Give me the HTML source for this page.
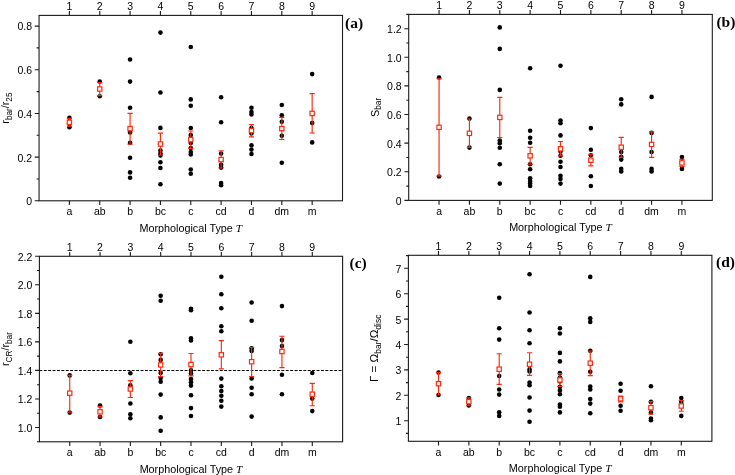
<!DOCTYPE html>
<html><head><meta charset="utf-8"><title>Figure</title>
<style>
html,body{margin:0;padding:0;background:#fff;}
body{width:735px;height:475px;overflow:hidden;font-family:"Liberation Sans",sans-serif;}
svg{display:block;will-change:transform;}
</style></head><body>
<svg width="735" height="475" viewBox="0 0 735 475">
<rect width="735" height="475" fill="#fff"/>
<g>
<g fill="#000">
<circle cx="69.39" cy="117.7" r="2.3"/>
<circle cx="69.39" cy="127.2" r="2.3"/>
<circle cx="99.74" cy="81.6" r="2.3"/>
<circle cx="99.74" cy="96.3" r="2.3"/>
<circle cx="130.08" cy="59.5" r="2.3"/>
<circle cx="130.08" cy="81.6" r="2.3"/>
<circle cx="130.08" cy="107.7" r="2.3"/>
<circle cx="130.08" cy="132.5" r="2.3"/>
<circle cx="130.08" cy="142.7" r="2.3"/>
<circle cx="130.08" cy="157.7" r="2.3"/>
<circle cx="130.08" cy="172.4" r="2.3"/>
<circle cx="130.08" cy="177.8" r="2.3"/>
<circle cx="160.43" cy="32.6" r="2.3"/>
<circle cx="160.43" cy="92.5" r="2.3"/>
<circle cx="160.43" cy="127.9" r="2.3"/>
<circle cx="160.43" cy="150.5" r="2.3"/>
<circle cx="160.43" cy="153.5" r="2.3"/>
<circle cx="160.43" cy="155.5" r="2.3"/>
<circle cx="160.43" cy="162.3" r="2.3"/>
<circle cx="160.43" cy="168" r="2.3"/>
<circle cx="160.43" cy="184.2" r="2.3"/>
<circle cx="190.77" cy="47" r="2.3"/>
<circle cx="190.77" cy="99.4" r="2.3"/>
<circle cx="190.77" cy="105.7" r="2.3"/>
<circle cx="190.77" cy="128" r="2.3"/>
<circle cx="190.77" cy="135" r="2.3"/>
<circle cx="190.77" cy="138.5" r="2.3"/>
<circle cx="190.77" cy="143" r="2.3"/>
<circle cx="190.77" cy="148" r="2.3"/>
<circle cx="190.77" cy="152" r="2.3"/>
<circle cx="190.77" cy="154.5" r="2.3"/>
<circle cx="190.77" cy="169.5" r="2.3"/>
<circle cx="190.77" cy="173.7" r="2.3"/>
<circle cx="221.12" cy="97.3" r="2.3"/>
<circle cx="221.12" cy="122.3" r="2.3"/>
<circle cx="221.12" cy="153.6" r="2.3"/>
<circle cx="221.12" cy="160.3" r="2.3"/>
<circle cx="221.12" cy="164.7" r="2.3"/>
<circle cx="221.12" cy="167.6" r="2.3"/>
<circle cx="221.12" cy="183" r="2.3"/>
<circle cx="221.12" cy="185.3" r="2.3"/>
<circle cx="251.46" cy="107.7" r="2.3"/>
<circle cx="251.46" cy="112" r="2.3"/>
<circle cx="251.46" cy="114.5" r="2.3"/>
<circle cx="251.46" cy="128" r="2.3"/>
<circle cx="251.46" cy="133.5" r="2.3"/>
<circle cx="251.46" cy="145.3" r="2.3"/>
<circle cx="251.46" cy="149.6" r="2.3"/>
<circle cx="251.46" cy="154" r="2.3"/>
<circle cx="281.81" cy="105" r="2.3"/>
<circle cx="281.81" cy="115.2" r="2.3"/>
<circle cx="281.81" cy="121.7" r="2.3"/>
<circle cx="281.81" cy="135.7" r="2.3"/>
<circle cx="281.81" cy="162.7" r="2.3"/>
<circle cx="312.16" cy="74.1" r="2.3"/>
<circle cx="312.16" cy="123" r="2.3"/>
<circle cx="312.16" cy="142.4" r="2.3"/>
</g>
<g stroke="#ff2a0c" stroke-width="1.15" fill="none">
<path d="M69.39 118.3V126.2M66.8 118.3H71.99M66.8 126.2H71.99"/>
<path d="M99.74 82.6V95.6M97.14 82.6H102.34M97.14 95.6H102.34"/>
<path d="M130.08 113.3V144.2M127.48 113.3H132.68M127.48 144.2H132.68"/>
<path d="M160.43 133.1V155.2M157.83 133.1H163.03M157.83 155.2H163.03"/>
<path d="M190.77 131V148.4M188.17 131H193.37M188.17 148.4H193.37"/>
<path d="M221.12 150.7V168M218.52 150.7H223.72M218.52 168H223.72"/>
<path d="M251.46 124.6V136.8M248.86 124.6H254.06M248.86 136.8H254.06"/>
<path d="M281.81 117.4V139.5M279.21 117.4H284.41M279.21 139.5H284.41"/>
<path d="M312.16 93.6V133M309.56 93.6H314.76M309.56 133H314.76"/>
</g>
<g stroke="#ff2a0c" stroke-width="1.2" fill="#fff">
<rect x="67.24" y="120.15" width="4.3" height="4.3"/>
<rect x="97.59" y="86.85" width="4.3" height="4.3"/>
<rect x="127.93" y="126.45" width="4.3" height="4.3"/>
<rect x="158.28" y="141.85" width="4.3" height="4.3"/>
<rect x="188.62" y="137.45" width="4.3" height="4.3"/>
<rect x="218.97" y="157.45" width="4.3" height="4.3"/>
<rect x="249.31" y="128.45" width="4.3" height="4.3"/>
<rect x="279.66" y="126.45" width="4.3" height="4.3"/>
<rect x="310.01" y="111.25" width="4.3" height="4.3"/>
</g>
<g stroke="#1a1a1a" stroke-width="1.1" fill="none">
<rect x="39.05" y="15.4" width="303.45" height="185.4"/>
<path d="M69.39 200.8v4.3M69.39 15.4v-4.3M99.74 200.8v4.3M99.74 15.4v-4.3M130.08 200.8v4.3M130.08 15.4v-4.3M160.43 200.8v4.3M160.43 15.4v-4.3M190.77 200.8v4.3M190.77 15.4v-4.3M221.12 200.8v4.3M221.12 15.4v-4.3M251.46 200.8v4.3M251.46 15.4v-4.3M281.81 200.8v4.3M281.81 15.4v-4.3M312.16 200.8v4.3M312.16 15.4v-4.3M39.05 200.8h-4.3M39.05 157.12h-4.3M39.05 113.44h-4.3M39.05 69.76h-4.3M39.05 26.08h-4.3M39.05 178.96h-2.4M39.05 135.28h-2.4M39.05 91.6h-2.4M39.05 47.92h-2.4"/>
</g>
<g font-family="Liberation Sans, sans-serif" font-size="10.5" fill="#000">
<g text-anchor="middle">
<text x="69.39" y="10.2">1</text>
<text x="69.39" y="215.4">a</text>
<text x="99.74" y="10.2">2</text>
<text x="99.74" y="215.4">ab</text>
<text x="130.08" y="10.2">3</text>
<text x="130.08" y="215.4">b</text>
<text x="160.43" y="10.2">4</text>
<text x="160.43" y="215.4">bc</text>
<text x="190.77" y="10.2">5</text>
<text x="190.77" y="215.4">c</text>
<text x="221.12" y="10.2">6</text>
<text x="221.12" y="215.4">cd</text>
<text x="251.46" y="10.2">7</text>
<text x="251.46" y="215.4">d</text>
<text x="281.81" y="10.2">8</text>
<text x="281.81" y="215.4">dm</text>
<text x="312.16" y="10.2">9</text>
<text x="312.16" y="215.4">m</text>
</g>
<g text-anchor="end">
<text x="32.05" y="205.2">0</text>
<text x="32.05" y="161.52">0.2</text>
<text x="32.05" y="117.84">0.4</text>
<text x="32.05" y="74.16">0.6</text>
<text x="32.05" y="30.48">0.8</text>
</g>
</g>
<text x="190.78" y="231.7" text-anchor="middle" font-family="Liberation Sans, sans-serif" font-size="10.8" fill="#000">Morphological Type <tspan font-family="Liberation Serif, serif" font-style="italic" font-size="11.3">T</tspan></text>
<text transform="translate(8.6 108.1) rotate(-90)" text-anchor="middle" font-family="Liberation Sans, sans-serif" font-size="10.8" fill="#000">r<tspan font-size="8.2" dy="3.8">bar</tspan><tspan dy="-3.8">/r</tspan><tspan font-size="8.2" dy="3.8">25</tspan></text>
<text x="345" y="28.3" font-family="Liberation Serif, serif" font-weight="bold" font-size="15.5" fill="#000">(a)</text>
</g>
<g>
<g fill="#000">
<circle cx="439.06" cy="77.5" r="2.3"/>
<circle cx="439.06" cy="176.5" r="2.3"/>
<circle cx="469.42" cy="118.6" r="2.3"/>
<circle cx="469.42" cy="147.6" r="2.3"/>
<circle cx="499.78" cy="27.4" r="2.3"/>
<circle cx="499.78" cy="48.9" r="2.3"/>
<circle cx="499.78" cy="89.9" r="2.3"/>
<circle cx="499.78" cy="140.6" r="2.3"/>
<circle cx="499.78" cy="143.3" r="2.3"/>
<circle cx="499.78" cy="147.8" r="2.3"/>
<circle cx="499.78" cy="164.3" r="2.3"/>
<circle cx="499.78" cy="183.6" r="2.3"/>
<circle cx="530.14" cy="68.2" r="2.3"/>
<circle cx="530.14" cy="130.7" r="2.3"/>
<circle cx="530.14" cy="137.8" r="2.3"/>
<circle cx="530.14" cy="142.7" r="2.3"/>
<circle cx="530.14" cy="164.2" r="2.3"/>
<circle cx="530.14" cy="169.2" r="2.3"/>
<circle cx="530.14" cy="178.3" r="2.3"/>
<circle cx="530.14" cy="181" r="2.3"/>
<circle cx="530.14" cy="183.6" r="2.3"/>
<circle cx="530.14" cy="186" r="2.3"/>
<circle cx="560.5" cy="65.7" r="2.3"/>
<circle cx="560.5" cy="120.6" r="2.3"/>
<circle cx="560.5" cy="123.2" r="2.3"/>
<circle cx="560.5" cy="135.4" r="2.3"/>
<circle cx="560.5" cy="151.6" r="2.3"/>
<circle cx="560.5" cy="155.8" r="2.3"/>
<circle cx="560.5" cy="161.7" r="2.3"/>
<circle cx="560.5" cy="167" r="2.3"/>
<circle cx="560.5" cy="175.8" r="2.3"/>
<circle cx="560.5" cy="179" r="2.3"/>
<circle cx="560.5" cy="183.6" r="2.3"/>
<circle cx="590.86" cy="128.1" r="2.3"/>
<circle cx="590.86" cy="149.8" r="2.3"/>
<circle cx="590.86" cy="155.2" r="2.3"/>
<circle cx="590.86" cy="160" r="2.3"/>
<circle cx="590.86" cy="176.3" r="2.3"/>
<circle cx="590.86" cy="186" r="2.3"/>
<circle cx="621.22" cy="99.2" r="2.3"/>
<circle cx="621.22" cy="104.4" r="2.3"/>
<circle cx="621.22" cy="152" r="2.3"/>
<circle cx="621.22" cy="156.8" r="2.3"/>
<circle cx="621.22" cy="159.6" r="2.3"/>
<circle cx="621.22" cy="168.9" r="2.3"/>
<circle cx="621.22" cy="171.5" r="2.3"/>
<circle cx="651.58" cy="96.9" r="2.3"/>
<circle cx="651.58" cy="132.9" r="2.3"/>
<circle cx="651.58" cy="152" r="2.3"/>
<circle cx="651.58" cy="168.9" r="2.3"/>
<circle cx="651.58" cy="171.5" r="2.3"/>
<circle cx="681.94" cy="157" r="2.3"/>
<circle cx="681.94" cy="168.9" r="2.3"/>
</g>
<g stroke="#ff2a0c" stroke-width="1.15" fill="none">
<path d="M439.06 78.7V175.9M436.46 78.7H441.66M436.46 175.9H441.66"/>
<path d="M469.42 119V147.4M466.82 119H472.02M466.82 147.4H472.02"/>
<path d="M499.78 97.3V137.5M497.18 97.3H502.38M497.18 137.5H502.38"/>
<path d="M530.14 147.4V164.2M527.54 147.4H532.74M527.54 164.2H532.74"/>
<path d="M560.5 141.5V155.8M557.9 141.5H563.1M557.9 155.8H563.1"/>
<path d="M590.86 154.2V165.8M588.26 154.2H593.46M588.26 165.8H593.46"/>
<path d="M621.22 137.3V157.4M618.62 137.3H623.82M618.62 157.4H623.82"/>
<path d="M651.58 131.9V157.4M648.98 131.9H654.18M648.98 157.4H654.18"/>
<path d="M681.94 159.4V166.4M679.34 159.4H684.54M679.34 166.4H684.54"/>
</g>
<g stroke="#ff2a0c" stroke-width="1.2" fill="#fff">
<rect x="436.91" y="125.15" width="4.3" height="4.3"/>
<rect x="467.27" y="131.15" width="4.3" height="4.3"/>
<rect x="497.63" y="115.25" width="4.3" height="4.3"/>
<rect x="527.99" y="153.65" width="4.3" height="4.3"/>
<rect x="558.35" y="146.65" width="4.3" height="4.3"/>
<rect x="588.71" y="158.05" width="4.3" height="4.3"/>
<rect x="619.07" y="145.05" width="4.3" height="4.3"/>
<rect x="649.43" y="142.25" width="4.3" height="4.3"/>
<rect x="679.79" y="160.75" width="4.3" height="4.3"/>
</g>
<g stroke="#1a1a1a" stroke-width="1.1" fill="none">
<rect x="408.7" y="14.4" width="303.6" height="186"/>
<path d="M439.06 200.4v4.3M439.06 14.4v-4.3M469.42 200.4v4.3M469.42 14.4v-4.3M499.78 200.4v4.3M499.78 14.4v-4.3M530.14 200.4v4.3M530.14 14.4v-4.3M560.5 200.4v4.3M560.5 14.4v-4.3M590.86 200.4v4.3M590.86 14.4v-4.3M621.22 200.4v4.3M621.22 14.4v-4.3M651.58 200.4v4.3M651.58 14.4v-4.3M681.94 200.4v4.3M681.94 14.4v-4.3M408.7 200.4h-4.3M408.7 171.78h-4.3M408.7 143.16h-4.3M408.7 114.54h-4.3M408.7 85.92h-4.3M408.7 57.3h-4.3M408.7 28.68h-4.3M408.7 186.09h-2.4M408.7 157.47h-2.4M408.7 128.85h-2.4M408.7 100.23h-2.4M408.7 71.61h-2.4M408.7 42.99h-2.4M408.7 14.37h-2.4"/>
</g>
<g font-family="Liberation Sans, sans-serif" font-size="10.5" fill="#000">
<g text-anchor="middle">
<text x="439.06" y="9.2">1</text>
<text x="439.06" y="215">a</text>
<text x="469.42" y="9.2">2</text>
<text x="469.42" y="215">ab</text>
<text x="499.78" y="9.2">3</text>
<text x="499.78" y="215">b</text>
<text x="530.14" y="9.2">4</text>
<text x="530.14" y="215">bc</text>
<text x="560.5" y="9.2">5</text>
<text x="560.5" y="215">c</text>
<text x="590.86" y="9.2">6</text>
<text x="590.86" y="215">cd</text>
<text x="621.22" y="9.2">7</text>
<text x="621.22" y="215">d</text>
<text x="651.58" y="9.2">8</text>
<text x="651.58" y="215">dm</text>
<text x="681.94" y="9.2">9</text>
<text x="681.94" y="215">m</text>
</g>
<g text-anchor="end">
<text x="401.7" y="204.8">0</text>
<text x="401.7" y="176.18">0.2</text>
<text x="401.7" y="147.56">0.4</text>
<text x="401.7" y="118.94">0.6</text>
<text x="401.7" y="90.32">0.8</text>
<text x="401.7" y="61.7">1.0</text>
<text x="401.7" y="33.08">1.2</text>
</g>
</g>
<text x="560.5" y="231.3" text-anchor="middle" font-family="Liberation Sans, sans-serif" font-size="10.8" fill="#000">Morphological Type <tspan font-family="Liberation Serif, serif" font-style="italic" font-size="11.3">T</tspan></text>
<text transform="translate(378.9 107.4) rotate(-90)" text-anchor="middle" font-family="Liberation Sans, sans-serif" font-size="10.8" fill="#000">S<tspan font-size="8.2" dy="2.4">bar</tspan></text>
<text x="716.4" y="27.4" font-family="Liberation Serif, serif" font-weight="bold" font-size="15.5" fill="#000">(b)</text>
</g>
<g>
<line x1="39.4" y1="370.5" x2="342.6" y2="370.5" stroke="#000" stroke-width="1" stroke-dasharray="2.9 1.5"/>
<g fill="#000">
<circle cx="69.72" cy="375.4" r="2.3"/>
<circle cx="69.72" cy="412.6" r="2.3"/>
<circle cx="100.04" cy="405.6" r="2.3"/>
<circle cx="100.04" cy="417" r="2.3"/>
<circle cx="130.36" cy="341.8" r="2.3"/>
<circle cx="130.36" cy="373.3" r="2.3"/>
<circle cx="130.36" cy="385.3" r="2.3"/>
<circle cx="130.36" cy="403.5" r="2.3"/>
<circle cx="130.36" cy="414.3" r="2.3"/>
<circle cx="130.36" cy="418.2" r="2.3"/>
<circle cx="160.68" cy="295.7" r="2.3"/>
<circle cx="160.68" cy="300.7" r="2.3"/>
<circle cx="160.68" cy="354.3" r="2.3"/>
<circle cx="160.68" cy="359.9" r="2.3"/>
<circle cx="160.68" cy="365" r="2.3"/>
<circle cx="160.68" cy="372.9" r="2.3"/>
<circle cx="160.68" cy="378.1" r="2.3"/>
<circle cx="160.68" cy="381.8" r="2.3"/>
<circle cx="160.68" cy="394.6" r="2.3"/>
<circle cx="160.68" cy="417.4" r="2.3"/>
<circle cx="160.68" cy="430.8" r="2.3"/>
<circle cx="191" cy="308.8" r="2.3"/>
<circle cx="191" cy="310.3" r="2.3"/>
<circle cx="191" cy="338.4" r="2.3"/>
<circle cx="191" cy="340.5" r="2.3"/>
<circle cx="191" cy="365" r="2.3"/>
<circle cx="191" cy="370.4" r="2.3"/>
<circle cx="191" cy="373.6" r="2.3"/>
<circle cx="191" cy="379.1" r="2.3"/>
<circle cx="191" cy="382.3" r="2.3"/>
<circle cx="191" cy="385.6" r="2.3"/>
<circle cx="191" cy="395.3" r="2.3"/>
<circle cx="191" cy="408.1" r="2.3"/>
<circle cx="191" cy="416" r="2.3"/>
<circle cx="221.32" cy="276.8" r="2.3"/>
<circle cx="221.32" cy="294.2" r="2.3"/>
<circle cx="221.32" cy="308.3" r="2.3"/>
<circle cx="221.32" cy="326.3" r="2.3"/>
<circle cx="221.32" cy="331.2" r="2.3"/>
<circle cx="221.32" cy="378.6" r="2.3"/>
<circle cx="221.32" cy="386.2" r="2.3"/>
<circle cx="221.32" cy="391" r="2.3"/>
<circle cx="221.32" cy="395.8" r="2.3"/>
<circle cx="221.32" cy="400.8" r="2.3"/>
<circle cx="221.32" cy="406.6" r="2.3"/>
<circle cx="251.64" cy="302.5" r="2.3"/>
<circle cx="251.64" cy="320.8" r="2.3"/>
<circle cx="251.64" cy="348.2" r="2.3"/>
<circle cx="251.64" cy="350.9" r="2.3"/>
<circle cx="251.64" cy="378.4" r="2.3"/>
<circle cx="251.64" cy="387.7" r="2.3"/>
<circle cx="251.64" cy="394.3" r="2.3"/>
<circle cx="251.64" cy="416.6" r="2.3"/>
<circle cx="281.96" cy="306.1" r="2.3"/>
<circle cx="281.96" cy="340.1" r="2.3"/>
<circle cx="281.96" cy="346.1" r="2.3"/>
<circle cx="281.96" cy="374.7" r="2.3"/>
<circle cx="281.96" cy="394.3" r="2.3"/>
<circle cx="312.28" cy="373" r="2.3"/>
<circle cx="312.28" cy="398.6" r="2.3"/>
<circle cx="312.28" cy="411.1" r="2.3"/>
</g>
<g stroke="#ff2a0c" stroke-width="1.15" fill="none">
<path d="M69.72 375.4V412.2M67.12 375.4H72.32M67.12 412.2H72.32"/>
<path d="M100.04 406.6V417M97.44 406.6H102.64M97.44 417H102.64"/>
<path d="M130.36 380.6V397.5M127.76 380.6H132.96M127.76 397.5H132.96"/>
<path d="M160.68 353.3V376.6M158.08 353.3H163.28M158.08 376.6H163.28"/>
<path d="M191 353.5V375.8M188.4 353.5H193.6M188.4 375.8H193.6"/>
<path d="M221.32 340.6V368.9M218.72 340.6H223.92M218.72 368.9H223.92"/>
<path d="M251.64 347.5V376.5M249.04 347.5H254.24M249.04 376.5H254.24"/>
<path d="M281.96 336.2V367.6M279.36 336.2H284.56M279.36 367.6H284.56"/>
<path d="M312.28 383.4V405.7M309.68 383.4H314.88M309.68 405.7H314.88"/>
</g>
<g stroke="#ff2a0c" stroke-width="1.2" fill="#fff">
<rect x="67.57" y="391.05" width="4.3" height="4.3"/>
<rect x="97.89" y="409.65" width="4.3" height="4.3"/>
<rect x="128.21" y="386.85" width="4.3" height="4.3"/>
<rect x="158.53" y="362.75" width="4.3" height="4.3"/>
<rect x="188.85" y="362.35" width="4.3" height="4.3"/>
<rect x="219.17" y="352.65" width="4.3" height="4.3"/>
<rect x="249.49" y="359.55" width="4.3" height="4.3"/>
<rect x="279.81" y="349.35" width="4.3" height="4.3"/>
<rect x="310.13" y="392.05" width="4.3" height="4.3"/>
</g>
<g stroke="#1a1a1a" stroke-width="1.1" fill="none">
<rect x="39.4" y="256.3" width="303.2" height="185.5"/>
<path d="M69.72 441.8v4.3M69.72 256.3v-4.3M100.04 441.8v4.3M100.04 256.3v-4.3M130.36 441.8v4.3M130.36 256.3v-4.3M160.68 441.8v4.3M160.68 256.3v-4.3M191 441.8v4.3M191 256.3v-4.3M221.32 441.8v4.3M221.32 256.3v-4.3M251.64 441.8v4.3M251.64 256.3v-4.3M281.96 441.8v4.3M281.96 256.3v-4.3M312.28 441.8v4.3M312.28 256.3v-4.3M39.4 427.5h-4.3M39.4 398.96h-4.3M39.4 370.42h-4.3M39.4 341.88h-4.3M39.4 313.34h-4.3M39.4 284.8h-4.3M39.4 256.26h-4.3M39.4 441.77h-2.4M39.4 413.23h-2.4M39.4 384.69h-2.4M39.4 356.15h-2.4M39.4 327.61h-2.4M39.4 299.07h-2.4M39.4 270.53h-2.4"/>
</g>
<g font-family="Liberation Sans, sans-serif" font-size="10.5" fill="#000">
<g text-anchor="middle">
<text x="69.72" y="251.1">1</text>
<text x="69.72" y="456.4">a</text>
<text x="100.04" y="251.1">2</text>
<text x="100.04" y="456.4">ab</text>
<text x="130.36" y="251.1">3</text>
<text x="130.36" y="456.4">b</text>
<text x="160.68" y="251.1">4</text>
<text x="160.68" y="456.4">bc</text>
<text x="191" y="251.1">5</text>
<text x="191" y="456.4">c</text>
<text x="221.32" y="251.1">6</text>
<text x="221.32" y="456.4">cd</text>
<text x="251.64" y="251.1">7</text>
<text x="251.64" y="456.4">d</text>
<text x="281.96" y="251.1">8</text>
<text x="281.96" y="456.4">dm</text>
<text x="312.28" y="251.1">9</text>
<text x="312.28" y="456.4">m</text>
</g>
<g text-anchor="end">
<text x="32.4" y="431.9">1.0</text>
<text x="32.4" y="403.36">1.2</text>
<text x="32.4" y="374.82">1.4</text>
<text x="32.4" y="346.28">1.6</text>
<text x="32.4" y="317.74">1.8</text>
<text x="32.4" y="289.2">2.0</text>
<text x="32.4" y="260.66">2.2</text>
</g>
</g>
<text x="191" y="472.7" text-anchor="middle" font-family="Liberation Sans, sans-serif" font-size="10.8" fill="#000">Morphological Type <tspan font-family="Liberation Serif, serif" font-style="italic" font-size="11.3">T</tspan></text>
<text transform="translate(8.6 349.05) rotate(-90)" text-anchor="middle" font-family="Liberation Sans, sans-serif" font-size="10.8" fill="#000">r<tspan font-size="8.2" dy="3.8">CR</tspan><tspan dy="-3.8">/r</tspan><tspan font-size="8.2" dy="3.8">bar</tspan></text>
<text x="349.5" y="268" font-family="Liberation Serif, serif" font-weight="bold" font-size="15.5" fill="#000">(c)</text>
</g>
<g>
<g fill="#000">
<circle cx="438.5" cy="372.5" r="2.3"/>
<circle cx="438.5" cy="395" r="2.3"/>
<circle cx="468.85" cy="398" r="2.3"/>
<circle cx="468.85" cy="401.7" r="2.3"/>
<circle cx="468.85" cy="405.4" r="2.3"/>
<circle cx="499.2" cy="297.8" r="2.3"/>
<circle cx="499.2" cy="328.2" r="2.3"/>
<circle cx="499.2" cy="339.6" r="2.3"/>
<circle cx="499.2" cy="376" r="2.3"/>
<circle cx="499.2" cy="389.5" r="2.3"/>
<circle cx="499.2" cy="394.6" r="2.3"/>
<circle cx="499.2" cy="412.2" r="2.3"/>
<circle cx="499.2" cy="415.9" r="2.3"/>
<circle cx="529.55" cy="274.2" r="2.3"/>
<circle cx="529.55" cy="312.5" r="2.3"/>
<circle cx="529.55" cy="330.3" r="2.3"/>
<circle cx="529.55" cy="343.3" r="2.3"/>
<circle cx="529.55" cy="369.4" r="2.3"/>
<circle cx="529.55" cy="371.5" r="2.3"/>
<circle cx="529.55" cy="382.6" r="2.3"/>
<circle cx="529.55" cy="385.3" r="2.3"/>
<circle cx="529.55" cy="397.5" r="2.3"/>
<circle cx="529.55" cy="410.6" r="2.3"/>
<circle cx="529.55" cy="421.7" r="2.3"/>
<circle cx="559.9" cy="328.3" r="2.3"/>
<circle cx="559.9" cy="333.5" r="2.3"/>
<circle cx="559.9" cy="352.9" r="2.3"/>
<circle cx="559.9" cy="361.4" r="2.3"/>
<circle cx="559.9" cy="373.1" r="2.3"/>
<circle cx="559.9" cy="377.5" r="2.3"/>
<circle cx="559.9" cy="381.5" r="2.3"/>
<circle cx="559.9" cy="386.8" r="2.3"/>
<circle cx="559.9" cy="390.4" r="2.3"/>
<circle cx="559.9" cy="394.3" r="2.3"/>
<circle cx="559.9" cy="404.6" r="2.3"/>
<circle cx="559.9" cy="406.7" r="2.3"/>
<circle cx="559.9" cy="412.4" r="2.3"/>
<circle cx="590.25" cy="276.9" r="2.3"/>
<circle cx="590.25" cy="318.2" r="2.3"/>
<circle cx="590.25" cy="321.9" r="2.3"/>
<circle cx="590.25" cy="350.7" r="2.3"/>
<circle cx="590.25" cy="371.7" r="2.3"/>
<circle cx="590.25" cy="386.5" r="2.3"/>
<circle cx="590.25" cy="389.4" r="2.3"/>
<circle cx="590.25" cy="399" r="2.3"/>
<circle cx="590.25" cy="403.6" r="2.3"/>
<circle cx="590.25" cy="413.2" r="2.3"/>
<circle cx="620.6" cy="383.7" r="2.3"/>
<circle cx="620.6" cy="390.7" r="2.3"/>
<circle cx="620.6" cy="399" r="2.3"/>
<circle cx="620.6" cy="405.7" r="2.3"/>
<circle cx="620.6" cy="410.8" r="2.3"/>
<circle cx="650.95" cy="386.2" r="2.3"/>
<circle cx="650.95" cy="401.9" r="2.3"/>
<circle cx="650.95" cy="412.4" r="2.3"/>
<circle cx="650.95" cy="418.5" r="2.3"/>
<circle cx="650.95" cy="420.3" r="2.3"/>
<circle cx="681.3" cy="398.1" r="2.3"/>
<circle cx="681.3" cy="401.9" r="2.3"/>
<circle cx="681.3" cy="415.9" r="2.3"/>
</g>
<g stroke="#ff2a0c" stroke-width="1.15" fill="none">
<path d="M438.5 372.5V395M435.9 372.5H441.1M435.9 395H441.1"/>
<path d="M468.85 397.8V405.7M466.25 397.8H471.45M466.25 405.7H471.45"/>
<path d="M499.2 353.7V384.3M496.6 353.7H501.8M496.6 384.3H501.8"/>
<path d="M529.55 352.7V375.4M526.95 352.7H532.15M526.95 375.4H532.15"/>
<path d="M559.9 373.6V386.5M557.3 373.6H562.5M557.3 386.5H562.5"/>
<path d="M590.25 351V375.6M587.65 351H592.85M587.65 375.6H592.85"/>
<path d="M620.6 396V401.8M618 396H623.2M618 401.8H623.2"/>
<path d="M650.95 401.6V414.2M648.35 401.6H653.55M648.35 414.2H653.55"/>
<path d="M681.3 400.5V411.2M678.7 400.5H683.9M678.7 411.2H683.9"/>
</g>
<g stroke="#ff2a0c" stroke-width="1.2" fill="#fff">
<rect x="436.35" y="381.55" width="4.3" height="4.3"/>
<rect x="466.7" y="399.55" width="4.3" height="4.3"/>
<rect x="497.05" y="367.05" width="4.3" height="4.3"/>
<rect x="527.4" y="362.05" width="4.3" height="4.3"/>
<rect x="557.75" y="377.85" width="4.3" height="4.3"/>
<rect x="588.1" y="361.05" width="4.3" height="4.3"/>
<rect x="618.45" y="396.65" width="4.3" height="4.3"/>
<rect x="648.8" y="405.55" width="4.3" height="4.3"/>
<rect x="679.15" y="403.85" width="4.3" height="4.3"/>
</g>
<g stroke="#1a1a1a" stroke-width="1.1" fill="none">
<rect x="408.4" y="255.3" width="303.5" height="186"/>
<path d="M438.5 441.3v4.3M438.5 255.3v-4.3M468.85 441.3v4.3M468.85 255.3v-4.3M499.2 441.3v4.3M499.2 255.3v-4.3M529.55 441.3v4.3M529.55 255.3v-4.3M559.9 441.3v4.3M559.9 255.3v-4.3M590.25 441.3v4.3M590.25 255.3v-4.3M620.6 441.3v4.3M620.6 255.3v-4.3M650.95 441.3v4.3M650.95 255.3v-4.3M681.3 441.3v4.3M681.3 255.3v-4.3M408.4 420.7h-4.3M408.4 395.3h-4.3M408.4 369.9h-4.3M408.4 344.5h-4.3M408.4 319.1h-4.3M408.4 293.7h-4.3M408.4 268.3h-4.3M408.4 433.4h-2.4M408.4 408h-2.4M408.4 382.6h-2.4M408.4 357.2h-2.4M408.4 331.8h-2.4M408.4 306.4h-2.4M408.4 281h-2.4M408.4 255.6h-2.4"/>
</g>
<g font-family="Liberation Sans, sans-serif" font-size="10.5" fill="#000">
<g text-anchor="middle">
<text x="438.5" y="250.1">1</text>
<text x="438.5" y="455.9">a</text>
<text x="468.85" y="250.1">2</text>
<text x="468.85" y="455.9">ab</text>
<text x="499.2" y="250.1">3</text>
<text x="499.2" y="455.9">b</text>
<text x="529.55" y="250.1">4</text>
<text x="529.55" y="455.9">bc</text>
<text x="559.9" y="250.1">5</text>
<text x="559.9" y="455.9">c</text>
<text x="590.25" y="250.1">6</text>
<text x="590.25" y="455.9">cd</text>
<text x="620.6" y="250.1">7</text>
<text x="620.6" y="455.9">d</text>
<text x="650.95" y="250.1">8</text>
<text x="650.95" y="455.9">dm</text>
<text x="681.3" y="250.1">9</text>
<text x="681.3" y="455.9">m</text>
</g>
<g text-anchor="end">
<text x="401.4" y="425.1">1</text>
<text x="401.4" y="399.7">2</text>
<text x="401.4" y="374.3">3</text>
<text x="401.4" y="348.9">4</text>
<text x="401.4" y="323.5">5</text>
<text x="401.4" y="298.1">6</text>
<text x="401.4" y="272.7">7</text>
</g>
</g>
<text x="560.15" y="472.2" text-anchor="middle" font-family="Liberation Sans, sans-serif" font-size="10.8" fill="#000">Morphological Type <tspan font-family="Liberation Serif, serif" font-style="italic" font-size="11.3">T</tspan></text>
<text transform="translate(378.2 348.3) rotate(-90)" text-anchor="middle" font-family="Liberation Sans, sans-serif" font-size="11.6" fill="#000">Γ = Ω<tspan font-size="8.5" dy="2.7">bar</tspan><tspan dy="-2.7">/Ω</tspan><tspan font-size="8.5" dy="2.7">disc</tspan></text>
<text x="716" y="266.6" font-family="Liberation Serif, serif" font-weight="bold" font-size="15.5" fill="#000">(d)</text>
</g>
</svg>
</body></html>
